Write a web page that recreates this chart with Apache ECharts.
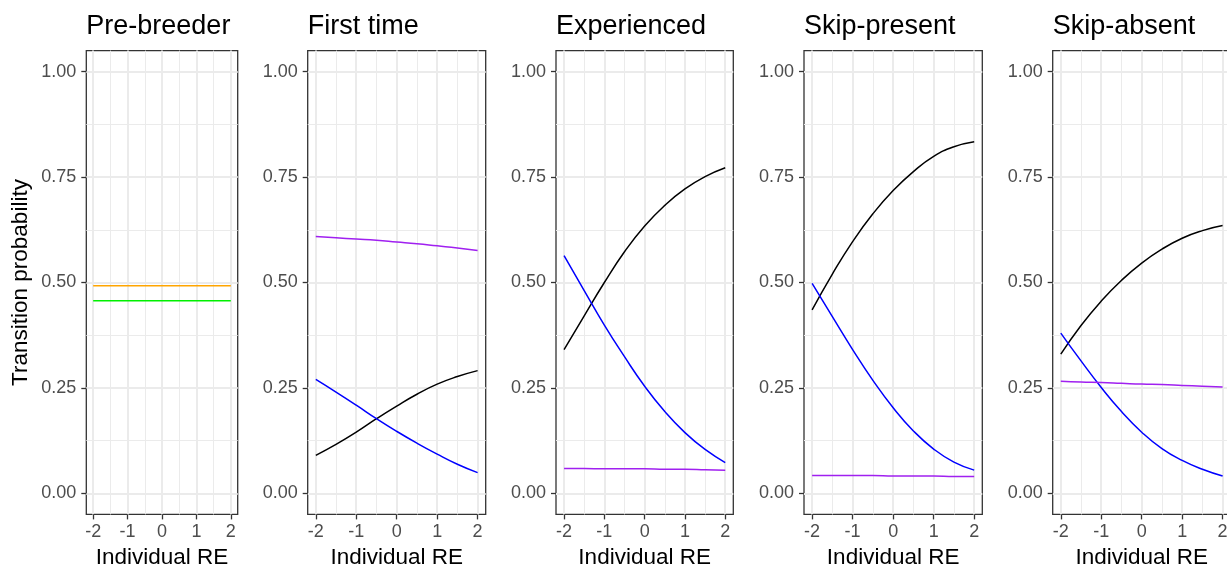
<!DOCTYPE html>
<html>
<head>
<meta charset="utf-8">
<title>Transition probability by individual random effect</title>
<script src="https://cdn.jsdelivr.net/npm/echarts@6/dist/echarts.min.js"></script>
<style>
  html, body { margin: 0; padding: 0; background: #ffffff; }
  #chart { width: 1227px; height: 569px; }
</style>
</head>
<body>
<div id="chart"></div>
<script>
// Individual random effect values at which the curves are evaluated
const reValues = [-2, -1.5, -1, -0.5, 0, 0.5, 1, 1.5, 2];

const panelTitles = ['Pre-breeder', 'First time', 'Experienced', 'Skip-present', 'Skip-absent'];
const xTickValues = [-2, -1, 0, 1, 2];
const xMinorValues = [-1.5, -0.5, 0.5, 1.5];
const yTickValues = [0, 0.25, 0.5, 0.75, 1];
const yMinorValues = [0.125, 0.375, 0.625, 0.875];

// Pre-breeder
const preBreederOrange = [0.4925, 0.4925, 0.4925, 0.4925, 0.4925, 0.4925, 0.4925, 0.4925, 0.4925];
const preBreederGreen  = [0.457, 0.457, 0.457, 0.457, 0.457, 0.457, 0.457, 0.457, 0.457];

// First time
const firstTimeBlack  = [0.090, 0.116, 0.145, 0.177, 0.207, 0.235, 0.259, 0.277, 0.291];
const firstTimeBlue   = [0.270, 0.240, 0.209, 0.177, 0.147, 0.119, 0.093, 0.069, 0.049];
const firstTimePurple = [0.609, 0.606, 0.603, 0.600, 0.596, 0.592, 0.587, 0.582, 0.576];

// Experienced
const experiencedBlack  = [0.341, 0.421, 0.500, 0.573, 0.634, 0.683, 0.722, 0.751, 0.772];
const experiencedBlue   = [0.564, 0.481, 0.399, 0.324, 0.254, 0.194, 0.144, 0.104, 0.073];
const experiencedPurple = [0.059, 0.059, 0.058, 0.058, 0.058, 0.057, 0.057, 0.056, 0.055];

// Skip-present
const skipPresentBlack  = [0.435, 0.520, 0.597, 0.663, 0.718, 0.763, 0.799, 0.822, 0.834];
const skipPresentBlue   = [0.498, 0.419, 0.341, 0.268, 0.203, 0.148, 0.105, 0.074, 0.055];
const skipPresentPurple = [0.042, 0.042, 0.042, 0.042, 0.041, 0.041, 0.041, 0.040, 0.040];

// Skip-absent
const skipAbsentBlack  = [0.330, 0.398, 0.456, 0.505, 0.546, 0.579, 0.605, 0.623, 0.635];
const skipAbsentBlue   = [0.380, 0.314, 0.251, 0.194, 0.145, 0.106, 0.078, 0.057, 0.041];
const skipAbsentPurple = [0.266, 0.264, 0.263, 0.261, 0.259, 0.258, 0.256, 0.254, 0.252];

const panelLines = [
  [{ values: preBreederOrange, color: '#FFA500' }, { values: preBreederGreen, color: '#00F000' }],
  [{ values: firstTimeBlack, color: '#000000' }, { values: firstTimeBlue, color: '#0000FF' }, { values: firstTimePurple, color: '#A020F0' }],
  [{ values: experiencedBlack, color: '#000000' }, { values: experiencedBlue, color: '#0000FF' }, { values: experiencedPurple, color: '#A020F0' }],
  [{ values: skipPresentBlack, color: '#000000' }, { values: skipPresentBlue, color: '#0000FF' }, { values: skipPresentPurple, color: '#A020F0' }],
  [{ values: skipAbsentBlack, color: '#000000' }, { values: skipAbsentBlue, color: '#0000FF' }, { values: skipAbsentPurple, color: '#A020F0' }]
];

// Panel layout (pixels)
const panelLeft  = [86.3, 307.7, 556, 804, 1052.7];
const panelWidth = [151.4, 178, 177.3, 178.3, 178];
const panelTop = 50.6;
const panelHeight = 463.8;

const FONT = "'Liberation Sans', Arial, Helvetica, sans-serif";
const GRID_COLOR = '#EBEBEB';
const INK = '#333333';

const grids = [], xAxes = [], yAxes = [], series = [], titles = [];

panelTitles.forEach((title, i) => {
  grids.push({
    left: panelLeft[i], top: panelTop, width: panelWidth[i], height: panelHeight,
    show: true, backgroundColor: '#ffffff', borderColor: INK, borderWidth: 1.3,
    containLabel: false, outerBoundsMode: 'none'
  });

  titles.push({
    text: title, left: panelLeft[i], top: 13, padding: 0,
    textStyle: { fontFamily: FONT, fontSize: 27, fontWeight: 'normal', color: '#000000' }
  });

  // major x axis
  xAxes.push({
    gridIndex: i, type: 'value', min: -2.2, max: 2.2,
    axisLine: { show: false, onZero: false },
    axisTick: { show: true, inside: false, length: 5, customValues: xTickValues, lineStyle: { color: INK, width: 1.3 } },
    axisLabel: { show: true, customValues: xTickValues, margin: 9, fontFamily: FONT, fontSize: 18, color: '#4D4D4D' },
    splitLine: { show: true, lineStyle: { color: GRID_COLOR, width: 2 } },
    name: 'Individual RE', nameLocation: 'middle', nameGap: 31,
    nameTextStyle: { fontFamily: FONT, fontSize: 22.5, color: '#000000' }
  });
  // minor x grid
  xAxes.push({
    gridIndex: i, type: 'value', min: -2.2, max: 2.2,
    axisLine: { show: false, onZero: false },
    axisTick: { show: false, customValues: xMinorValues },
    axisLabel: { show: false, customValues: xMinorValues },
    splitLine: { show: true, lineStyle: { color: GRID_COLOR, width: 1 } }
  });

  // major y axis
  const yMajor = {
    gridIndex: i, type: 'value', min: -0.05, max: 1.05,
    axisLine: { show: false, onZero: false },
    axisTick: { show: true, inside: false, length: 5, customValues: yTickValues, lineStyle: { color: INK, width: 1.3 } },
    axisLabel: { show: true, customValues: yTickValues, margin: 10, fontFamily: FONT, fontSize: 18, color: '#4D4D4D',
      formatter: v => v.toFixed(2) },
    splitLine: { show: true, lineStyle: { color: GRID_COLOR, width: 2 } }
  };
  if (i === 0) {
    yMajor.name = 'Transition probability';
    yMajor.nameLocation = 'middle';
    yMajor.nameRotate = 90;
    yMajor.nameGap = 54;
    yMajor.nameTextStyle = { fontFamily: FONT, fontSize: 22.5, color: '#000000' };
  }
  yAxes.push(yMajor);
  // minor y grid
  yAxes.push({
    gridIndex: i, type: 'value', min: -0.05, max: 1.05,
    axisLine: { show: false, onZero: false },
    axisTick: { show: false, customValues: yMinorValues },
    axisLabel: { show: false, customValues: yMinorValues },
    splitLine: { show: true, lineStyle: { color: GRID_COLOR, width: 1 } }
  });

  panelLines[i].forEach(line => {
    series.push({
      type: 'line',
      xAxisIndex: 2 * i, yAxisIndex: 2 * i,
      data: reValues.map((x, k) => [x, line.values[k]]),
      smooth: 0.5, showSymbol: false, symbol: 'none',
      lineStyle: { color: line.color, width: 1.5 },
      silent: true, z: 3
    });
  });
});

const chart = echarts.init(document.getElementById('chart'), null, { renderer: 'canvas' });
chart.setOption({
  animation: false,
  backgroundColor: '#ffffff',
  textStyle: { fontFamily: FONT },
  title: titles,
  grid: grids,
  xAxis: xAxes,
  yAxis: yAxes,
  series: series
});
</script>
</body>
</html>
